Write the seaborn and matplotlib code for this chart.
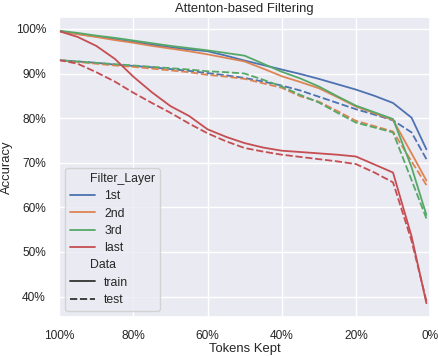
import numpy as np
import pandas as pd
import matplotlib
matplotlib.use("Agg")
import matplotlib.pyplot as plt
from matplotlib.ticker import PercentFormatter
import seaborn as sns

# tokens kept (%)
tokens = [100, 95, 90, 85, 80, 75, 70, 65, 60, 55, 50, 45, 40, 35, 30, 25, 20, 15, 10, 5, 1]

# accuracy (%) per filter layer, train / test
first_train = [99.5, 98.9, 98.3, 97.7, 97.1, 96.5, 95.9, 95.4, 95.0, 94.0, 92.9, 91.9, 90.9, 89.9, 88.8, 87.6, 86.4, 85.0, 83.4, 80.1, 73.0]
first_test = [93.0, 92.7, 92.4, 92.0, 91.7, 91.4, 91.0, 90.6, 90.1, 89.6, 89.0, 88.2, 87.3, 86.2, 84.8, 83.4, 82.0, 80.8, 79.5, 76.8, 70.8]
second_train = [99.5, 98.8, 98.2, 97.5, 96.9, 96.2, 95.6, 95.0, 94.3, 93.5, 92.7, 91.1, 89.4, 88.1, 86.7, 84.7, 82.6, 81.1, 79.6, 72.1, 66.0]
second_test = [93.0, 92.6, 92.2, 91.8, 91.5, 91.1, 90.7, 90.3, 89.7, 89.3, 88.8, 87.8, 86.8, 84.9, 83.7, 81.6, 79.4, 78.2, 77.0, 70.3, 65.0]
third_train = [99.6, 99.1, 98.5, 98.0, 97.4, 96.8, 96.2, 95.7, 95.2, 94.6, 94.0, 92.2, 90.4, 88.9, 87.1, 84.9, 82.8, 81.3, 79.8, 69.0, 58.3]
third_test = [93.0, 92.7, 92.4, 92.1, 91.8, 91.5, 91.2, 90.9, 90.5, 90.3, 90.0, 88.6, 87.1, 85.2, 83.5, 81.2, 79.0, 77.9, 76.8, 66.1, 57.5]
last_train = [99.5, 98.2, 96.2, 93.3, 89.3, 85.8, 82.7, 80.5, 77.5, 75.8, 74.4, 73.4, 72.7, 72.4, 72.1, 71.8, 71.4, 69.6, 67.8, 53.5, 38.5]
last_test = [93.0, 92.2, 90.3, 88.2, 85.7, 83.4, 81.2, 78.8, 76.6, 74.8, 73.3, 72.5, 71.8, 71.3, 70.8, 70.3, 69.7, 67.8, 65.6, 52.5, 39.0]

layers = ["1st", "2nd", "3rd", "last"]
series = {
    ("1st", "train"): first_train, ("1st", "test"): first_test,
    ("2nd", "train"): second_train, ("2nd", "test"): second_test,
    ("3rd", "train"): third_train, ("3rd", "test"): third_test,
    ("last", "train"): last_train, ("last", "test"): last_test,
}

rows = []
for (layer, split), vals in series.items():
    for t, v in zip(tokens, vals):
        rows.append({"Tokens Kept": t, "Accuracy": v, "Filter_Layer": layer, "Data": split})
df = pd.DataFrame(rows)

sns.set_theme(style="darkgrid", font_scale=0.78)
plt.rcParams["font.family"] = ["Liberation Sans", "DejaVu Sans"]

fig, ax = plt.subplots(figsize=(4.38, 3.56), dpi=100)
sns.lineplot(data=df, x="Tokens Kept", y="Accuracy", hue="Filter_Layer", style="Data",
             hue_order=layers, style_order=["train", "test"], linewidth=1.3, ax=ax)

ax.set_xlim(100, 0)
ax.xaxis.set_major_formatter(PercentFormatter(decimals=0))
ax.yaxis.set_major_formatter(PercentFormatter(decimals=0))
ax.set_title("Attenton-based Filtering", pad=4)
ax.set_xlabel("Tokens Kept", labelpad=1)
ax.set_ylabel("Accuracy", labelpad=2)
leg = ax.legend(loc="lower left", fontsize=8.8, labelspacing=0.43)

# subtitles sit a little left of the entry labels
for col in leg._legend_handle_box.get_children():
    for row in col.get_children():
        da, ta = row.get_children()
        if ta.get_text() in ("Filter_Layer", "Data"):
            da.width = 7

plt.subplots_adjust(left=0.135, right=0.982, top=0.952, bottom=0.11)
plt.savefig("out.png", dpi=100)
